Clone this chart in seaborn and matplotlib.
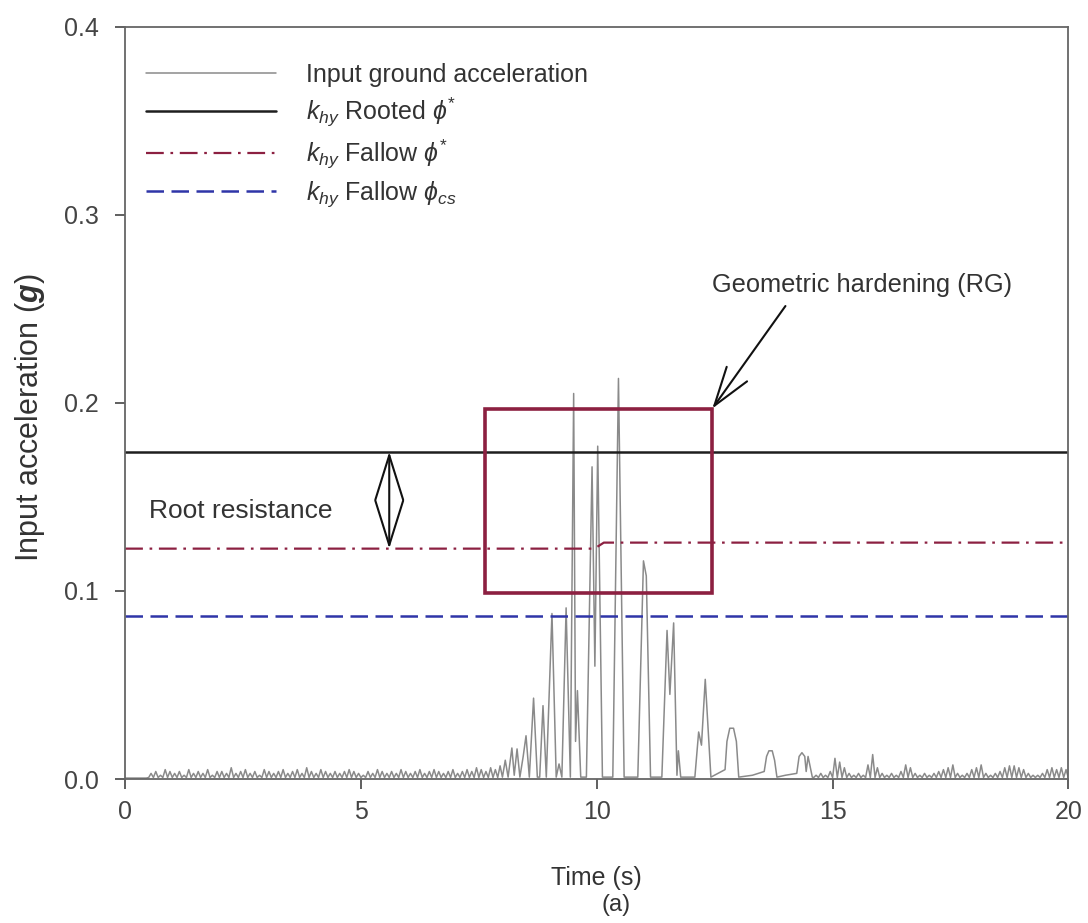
import numpy as np
import seaborn as sns
import matplotlib.pyplot as plt
from matplotlib.lines import Line2D
from matplotlib.patches import Rectangle

# background noise bumps (g), one every 0.1 s from 0.55 s
noise_early = [
    0.003, 0.004, 0.002, 0.005, 0.004, 0.003, 0.004, 0.002, 0.005, 0.003,
    0.004, 0.003, 0.005, 0.002, 0.004, 0.004, 0.003, 0.006, 0.003, 0.004,
    0.005, 0.003, 0.004, 0.002, 0.005, 0.004, 0.003, 0.004, 0.005, 0.003,
    0.004, 0.005, 0.003, 0.006, 0.004, 0.003, 0.005, 0.004, 0.003, 0.004,
    0.003, 0.004, 0.005, 0.004, 0.003, 0.002, 0.004, 0.003, 0.005, 0.004,
    0.003, 0.004, 0.003, 0.005, 0.004, 0.003, 0.004, 0.005, 0.003, 0.004,
    0.005, 0.004, 0.003, 0.004, 0.005, 0.003, 0.004, 0.005, 0.004, 0.006,
    0.005, 0.004, 0.006, 0.005, 0.007]

# strong motion part, read point by point
strong_t = [8.00, 8.06, 8.12, 8.20, 8.25, 8.31, 8.37, 8.44, 8.50, 8.57,
            8.66, 8.74, 8.79, 8.86, 8.93, 9.05, 9.14, 9.20, 9.26, 9.35,
            9.44, 9.51, 9.55, 9.59, 9.66, 9.78, 9.90, 9.96, 10.02, 10.12,
            10.34, 10.46, 10.58, 10.87, 10.99, 11.05, 11.14, 11.38, 11.49, 11.55,
            11.63, 11.70, 11.73, 11.78, 12.08, 12.16, 12.22, 12.30, 12.42, 12.72,
            12.76, 12.82, 12.90, 12.96, 13.01, 13.30, 13.55, 13.60, 13.65, 13.72,
            13.77, 13.82, 14.00, 14.24, 14.29, 14.35, 14.41, 14.44, 14.48, 14.57]
strong_a = [0.001, 0.010, 0.001, 0.0165, 0.002, 0.016, 0.001, 0.012, 0.023, 0.001,
            0.043, 0.001, 0.001, 0.039, 0.001, 0.088, 0.001, 0.008, 0.001, 0.091,
            0.001, 0.205, 0.020, 0.047, 0.001, 0.001, 0.166, 0.060, 0.177, 0.001,
            0.001, 0.213, 0.001, 0.001, 0.116, 0.108, 0.001, 0.001, 0.079, 0.045,
            0.083, 0.002, 0.015, 0.001, 0.001, 0.025, 0.018, 0.053, 0.001, 0.005,
            0.020, 0.027, 0.027, 0.020, 0.001, 0.002, 0.004, 0.012, 0.015, 0.015,
            0.010, 0.001, 0.002, 0.003, 0.012, 0.014, 0.012, 0.004, 0.012, 0.001]

# tail noise bumps, one every 0.1 s from 14.65 s
noise_tail = [
    0.002, 0.003, 0.002, 0.004,
    0.011, 0.009, 0.006, 0.003, 0.002, 0.003, 0.002,
    0.0075, 0.013, 0.006, 0.003, 0.002, 0.003,
    0.002, 0.004, 0.0075, 0.006, 0.003, 0.002,
    0.003, 0.002, 0.003, 0.004, 0.005, 0.006, 0.0075, 0.003,
    0.002, 0.003, 0.005, 0.006, 0.0075, 0.003,
    0.002, 0.003, 0.004, 0.006, 0.007, 0.007,
    0.006, 0.005, 0.003, 0.002, 0.002, 0.003, 0.005, 0.006, 0.005, 0.006, 0.005]

# yield accelerations
kh_rooted = 0.174
kh_fallow_t = [0.0, 9.95, 10.15, 20.0]
kh_fallow = [0.1225, 0.1225, 0.1257, 0.1257]
kh_fallow_cs = 0.0865


def bumps(t0, heights, floor=0.0008):
    # each bump rises from the floor and falls back before the next one
    tt, aa = [], []
    for i, h in enumerate(heights):
        tc = t0 + 0.1 * i
        tt += [tc - 0.05, tc]
        aa += [floor, h]
    return tt, aa


t1, a1 = bumps(0.55, noise_early)
t3, a3 = bumps(14.65, noise_tail)
acc_t = [0.0, 0.45] + t1 + strong_t + t3 + [20.0]
acc = [0.0005, 0.0005] + a1 + strong_a + a3 + [0.0005]

sns.set_theme(style="ticks")
plt.rcParams['font.family'] = ['Liberation Sans', 'DejaVu Sans']
plt.rcParams['mathtext.fontset'] = 'custom'
plt.rcParams['mathtext.rm'] = 'Liberation Sans'
plt.rcParams['mathtext.it'] = 'Liberation Sans:italic'
plt.rcParams['mathtext.bf'] = 'Liberation Sans:bold'
plt.rcParams['mathtext.bfit'] = 'Liberation Sans:bold:italic'

fig = plt.figure(figsize=(10.88, 9.23), dpi=100)
ax = fig.add_axes([0.115, 0.156, 0.867, 0.815])

acc_col = '#8a8a8a'
red = '#8c2041'
blue = '#2f35a8'
txt_col = '#333333'

sns.lineplot(x=acc_t, y=acc, ax=ax, color=acc_col, lw=1.1, estimator=None, sort=False)
ax.plot([0, 20], [kh_rooted, kh_rooted], color='#1e1e1e', lw=1.8)
sns.lineplot(x=kh_fallow_t, y=kh_fallow, ax=ax, color=red, lw=1.6,
             estimator=None, sort=False, dashes=False)
ax.lines[-1].set_dashes((8, 3, 1.2, 3))
ax.plot([0, 20], [kh_fallow_cs, kh_fallow_cs], color=blue, lw=1.8, dashes=(7, 3))

# box around the hardening zone
ax.add_patch(Rectangle((7.64, 0.0987), 12.45 - 7.64, 0.197 - 0.0987, fill=False,
                       edgecolor=red, lw=2.6, zorder=5))

ax.annotate('', xy=(12.45, 0.197), xytext=(14.0, 0.2515),
            arrowprops=dict(arrowstyle='->,head_length=1.4,head_width=0.45',
                            color='#111111', lw=1.5, mutation_scale=20,
                            shrinkA=0, shrinkB=0))
ax.text(12.45, 0.2625, 'Geometric hardening (RG)', fontsize=18.3, color=txt_col,
        va='center', ha='left')

ax.annotate('', xy=(5.6, kh_rooted), xytext=(5.6, 0.1225),
            arrowprops=dict(arrowstyle='<->,head_length=1.6,head_width=0.5',
                            color='#111111', lw=1.5, mutation_scale=20,
                            shrinkA=0, shrinkB=0))
ax.text(0.5, 0.1427, 'Root resistance', fontsize=19, color=txt_col, va='center', ha='left')

ax.set_xlim(0, 20)
ax.set_ylim(0, 0.4)
ax.set_xticks([0, 5, 10, 15, 20])
ax.set_yticks([0.0, 0.1, 0.2, 0.3, 0.4])
ax.set_yticklabels(['0.0', '0.1', '0.2', '0.3', '0.4'])
ax.tick_params(labelsize=18, colors='#444444', length=7, width=1.2, direction='out')
ax.tick_params(axis='x', pad=8)
ax.tick_params(axis='y', pad=12)
for s in ax.spines.values():
    s.set_color('#666666')
    s.set_linewidth(1.3)

ax.set_xlabel('Time (s)', fontsize=18, color=txt_col, labelpad=30)
ax.set_ylabel(r'Input acceleration ($\mathbfit{g}$)', fontsize=22, color=txt_col)
ax.yaxis.set_label_coords(-0.083, 0.48)
fig.text(0.566, 0.019, '(a)', fontsize=17, color=txt_col, ha='center', va='center')

handles = [
    Line2D([], [], color=acc_col, lw=1.1),
    Line2D([], [], color='#1e1e1e', lw=1.8),
    Line2D([], [], color=red, lw=1.6, dashes=(8, 3, 1.2, 3)),
    Line2D([], [], color=blue, lw=1.8, dashes=(7, 3)),
]
labels = ['Input ground acceleration',
          r'$k_{hy}$ Rooted $\phi^{*}$',
          r'$k_{hy}$ Fallow $\phi^{*}$',
          r'$k_{hy}$ Fallow $\phi_{cs}$']
leg = ax.legend(handles, labels, loc='upper left', bbox_to_anchor=(-0.002, 0.982),
                frameon=False, fontsize=18, handlelength=5.2, handletextpad=1.2,
                labelspacing=0.35)
for txt in leg.get_texts():
    txt.set_color(txt_col)

fig.savefig('out.png', dpi=100)
